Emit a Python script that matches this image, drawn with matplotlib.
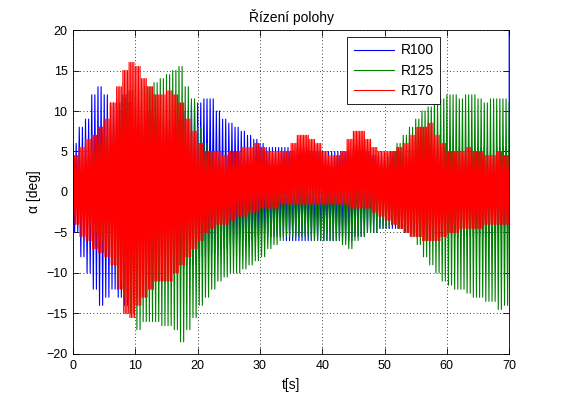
import numpy as np
import matplotlib
matplotlib.use('Agg')
from matplotlib import pyplot as plt

plt.rcParams['font.family'] = ['Liberation Sans', 'DejaVu Sans']
plt.rcParams['font.size'] = 9

# envelope of each response, read once per second (t = 0..70 s)
t_env = np.arange(0, 71)

r100_hi = [6, 8, 9, 12, 13, 12, 11, 11, 12, 11, 10, 10, 10, 9, 9, 9, 8, 9, 10, 11,
           11, 11.5, 11.5, 10, 9, 8.5, 8, 7.5, 7, 6.5, 6, 5.5, 5.5, 5.5, 5.5, 5, 5.5, 5.5, 5, 5,
           5, 5, 5, 5, 5, 5, 5, 5, 4.5, 4.5, 4.5, 5, 5, 5, 5, 5.5, 5.5, 6, 5.5, 5.5,
           5, 5, 5.5, 5, 5.5, 5.5, 5.5, 5, 5.5, 5.5, 5.5]
r100_lo = [-5, -8, -10, -12, -14, -13, -12, -13, -14, -13, -13, -12, -12, -11, -11, -10, -10, -9.5, -9, -9,
           -8, -8, -7.5, -7, -7, -6.5, -6, -6, -6, -5.5, -5, -5.5, -5.5, -5.5, -6, -6, -6, -6, -6, -6,
           -6, -6, -6, -6, -6, -5.5, -5.5, -5, -5, -4.5, -4.5, -4.5, -4.5, -5, -5, -5.5, -5.5, -5.5, -5.5, -5.5,
           -5.5, -5.5, -5.5, -5.5, -5.5, -5.5, -5.5, -5, -5, -5, -5]
r100_end = 20

r125_hi = [2, 3, 4, 5, 6, 7, 8.5, 10, 11.5, 12.5, 13, 13, 13, 13.5, 14, 14.5, 15, 15.5, 13, 11.5,
           8, 6, 5, 4, 3.5, 3, 2.5, 2, 2, 1.5, 1.5, 1.5, 1, 1, 1, 1, 1, 1, 1, 0.5,
           0.5, 1, 1, 1, 1.5, 1.5, 2, 2.5, 3, 3.5, 4, 5, 6, 7, 8, 9, 10, 10.5, 11, 11.5,
           12, 12, 11.5, 12, 12, 11.5, 11, 11.5, 11.5, 11.5, 11]
r125_lo = [-2, -3, -4, -5, -6, -7, -9, -11, -13, -15, -17, -16, -16, -16, -16.5, -16.5, -17, -18.5, -17, -15.5,
           -14, -13, -12, -11, -10.5, -10, -10, -9.5, -9, -8.5, -8, -7, -6.5, -6, -5.5, -5.5, -5.5, -5.5, -6, -6,
           -6, -6, -6, -6.5, -7, -6, -5.5, -5, -5, -4.5, -4.5, -4, -4.5, -5, -5.5, -6.5, -8, -9, -10, -11,
           -11.5, -12, -12, -12.5, -13, -13, -13.5, -13.5, -14.5, -14, -13.5]

r170_hi = [4.5, 5.5, 6.5, 7, 8, 9, 11, 13, 15, 16, 15.5, 14, 13, 12, 12, 12.5, 12, 11, 9, 7.5,
           6, 5, 5, 5, 4.5, 5, 5, 5.5, 5.5, 6, 5.5, 5, 5, 5, 5, 6, 7, 7, 6.5, 6,
           5, 4.5, 4.5, 5, 6.5, 7.5, 7.5, 6.5, 5.5, 5, 5, 5, 5.5, 6, 7, 8, 8, 8.5, 7, 6,
           5, 5, 5, 5.5, 5, 5, 4.5, 4.5, 5, 4.5, 4.5]
r170_lo = [-4, -5.5, -6, -7, -7.5, -8, -9, -12, -15, -15.5, -14, -13, -12, -11, -11, -11, -10, -9, -8, -7,
           -6, -5, -4.5, -4, -4, -3.5, -3, -3, -2.5, -2.5, -2, -2, -2, -1.5, -1.5, -1.5, -1.5, -1.5, -1.5, -1.5,
           -1.5, -1.5, -1.5, -1.5, -2, -2, -2, -2, -2.5, -3, -3.5, -4, -4.5, -5, -5.5, -5.5, -6, -6, -6, -5.5,
           -5, -5, -4.5, -4.5, -4.5, -4.5, -4, -4, -4, -4, -4]


def swing(hi, lo, per_sec):
    # hold each envelope value for one second, swing between top and bottom
    hi = np.repeat(np.array(hi, float), per_sec)
    lo = np.repeat(np.array(lo, float), per_sec)
    y = np.where(np.arange(len(hi)) % 2 == 0, hi, lo)
    t = np.arange(len(hi)) / per_sec
    keep = t <= 70
    return t[keep], y[keep]


t1, y1 = swing(r100_hi, r100_lo, 4)
t1 = np.append(t1, 70)
y1 = np.append(y1, r100_end)
t2, y2 = swing(r125_hi, r125_lo, 4)
t3, y3 = swing(r170_hi, r170_lo, 8)

fig = plt.figure(figsize=(5.62, 3.98), dpi=100)
ax = fig.add_axes([0.130, 0.1106, 0.776, 0.814])

ax.plot(t1, y1, color=(0, 0, 1), lw=0.8, label='R100')
ax.plot(t2, y2, color=(0, 0.5, 0), lw=0.8, label='R125')
ax.plot(t3, y3, color=(1, 0, 0), lw=0.8, label='R170')

ax.set_xlim(0, 70)
ax.set_ylim(-20, 20)
ax.set_xticks(np.arange(0, 71, 10))
ax.set_yticks(np.arange(-20, 21, 5))
ax.grid(True, color='k', linestyle=(0, (1, 3)), linewidth=0.6)
ax.tick_params(direction='in', top=True, right=True, length=4, width=0.6,
               labelsize=9, pad=4)
for s in ax.spines.values():
    s.set_linewidth(0.6)

ax.set_title(u'Řízení polohy', fontsize=10, pad=6)
ax.set_xlabel('t[s]', fontsize=10, labelpad=5)
ax.set_ylabel(u'α [deg]', fontsize=10, labelpad=4)

leg = ax.legend(loc='upper right', bbox_to_anchor=(0.842, 0.978), borderaxespad=0,
                fancybox=False, framealpha=1, edgecolor='k', fontsize=10,
                handlelength=2.9, handletextpad=0.5, borderpad=0.45,
                labelspacing=0.45)
leg.get_frame().set_linewidth(0.6)

fig.savefig('out.png', dpi=100)
